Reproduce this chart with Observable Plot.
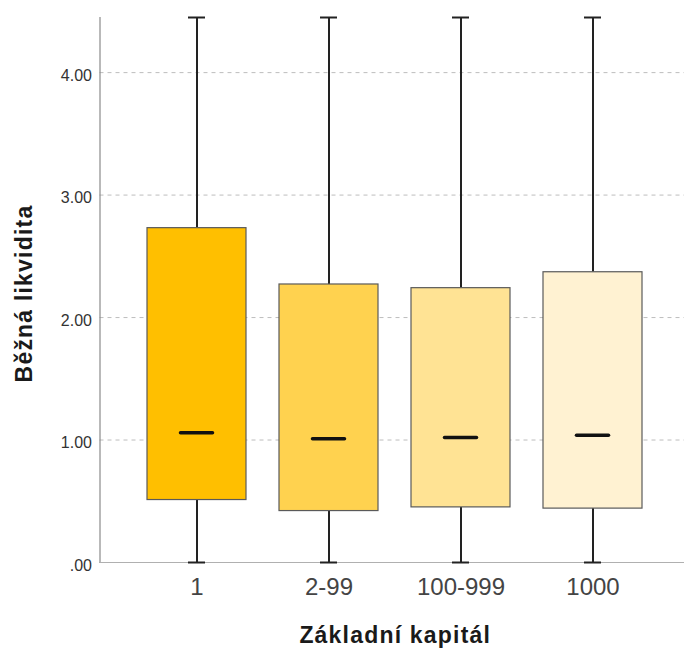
<!DOCTYPE html>
<html>
<head>
<meta charset="utf-8">
<script src="https://cdn.jsdelivr.net/npm/d3@7"></script>
<script src="https://cdn.jsdelivr.net/npm/@observablehq/plot@0.6"></script>
<style>
  html, body { margin: 0; padding: 0; background: #fff; }
  #chart svg { display: block; }
</style>
</head>
<body>
<div id="chart"></div>
<script>
// Základní kapitál groups and the box-plot statistics of "Běžná likvidita"
const categories   = ["1", "2-99", "100-999", "1000"];
const minValues    = [0, 0, 0, 0];
const q1Values     = [0.51, 0.42, 0.45, 0.44];
const medianValues = [1.06, 1.01, 1.02, 1.04];
const q3Values     = [2.73, 2.27, 2.24, 2.37];
const maxValues    = [4.45, 4.45, 4.45, 4.45];
const boxFills     = ["#FFBF00", "#FFD24F", "#FFE394", "#FFF2D2"];
const yTicks       = [0, 1, 2, 3, 4];
const xTitle       = "Základní kapitál";
const yTitle       = "Běžná likvidita";

const rows = categories.map((cat, i) => ({
  cat,
  min: minValues[i],
  q1: q1Values[i],
  med: medianValues[i],
  q3: q3Values[i],
  max: maxValues[i]
}));

const fmt = d => d3.format(".2f")(d).replace(/^0\./, ".");

const chart = Plot.plot({
  width: 684,
  height: 648,
  marginTop: 17,
  marginBottom: 86,
  marginLeft: 99.5,
  marginRight: 0,
  style: {fontFamily: "'Liberation Sans', Arial, sans-serif", color: "#333", background: "#fff"},
  x: {domain: categories, range: [99.5, 690], paddingInner: 0.247, paddingOuter: 0.346},
  y: {domain: [0, d3.max(maxValues)]},
  color: {domain: categories, range: boxFills},
  marks: [
    // dashed horizontal gridlines
    Plot.ruleY(yTicks, {stroke: "#bdbdbd", strokeDasharray: "4,4", strokeWidth: 1}),
    // left and bottom axis lines
    Plot.frame({anchor: "left", stroke: "#8a8a8a", strokeWidth: 1.2}),
    Plot.frame({anchor: "bottom", stroke: "#b0b0b0", strokeWidth: 1}),
    // whiskers
    Plot.ruleX(rows, {x: "cat", y1: "min", y2: "q1", stroke: "#222", strokeWidth: 2}),
    Plot.ruleX(rows, {x: "cat", y1: "q3", y2: "max", stroke: "#222", strokeWidth: 2}),
    // whisker caps
    Plot.tickY(rows, {x: "cat", y: "min", stroke: "#222", strokeWidth: 2, insetLeft: 41, insetRight: 41}),
    Plot.tickY(rows, {x: "cat", y: "max", stroke: "#222", strokeWidth: 2, insetLeft: 41, insetRight: 41}),
    // interquartile boxes
    Plot.barY(rows, {x: "cat", y1: "q1", y2: "q3", fill: "cat", stroke: "#5a5a5a", strokeWidth: 1.2}),
    // medians
    Plot.tickY(rows, {x: "cat", y: "med", stroke: "#111", strokeWidth: 3.5, strokeLinecap: "round", insetLeft: 33.5, insetRight: 33.5}),
    // axes
    Plot.axisY(yTicks, {tickSize: 0, tickPadding: 8, tickFormat: fmt, fontSize: 16, dy: 3, label: null}),
    Plot.axisX({tickSize: 0, tickPadding: 15, fontSize: 24, fill: "#444", label: null}),
    // axis titles
    Plot.text([xTitle], {frameAnchor: "bottom", textAnchor: "middle", dx: 3, dy: 73.5, fontSize: 23, fontWeight: "bold", fill: "#1a1a1a", lineAnchor: "middle"}),
    Plot.text([yTitle], {frameAnchor: "left", textAnchor: "middle", rotate: -90, dx: -75.5, dy: 3.5, fontSize: 23, fontWeight: "bold", fill: "#1a1a1a", lineAnchor: "middle"})
  ]
});

// the axis titles are set slightly wider
d3.select(chart).selectAll("text")
  .filter(function () { return this.textContent === xTitle || this.textContent === yTitle; })
  .style("letter-spacing", "1.2px");

document.getElementById("chart").appendChild(chart);
</script>
</body>
</html>
